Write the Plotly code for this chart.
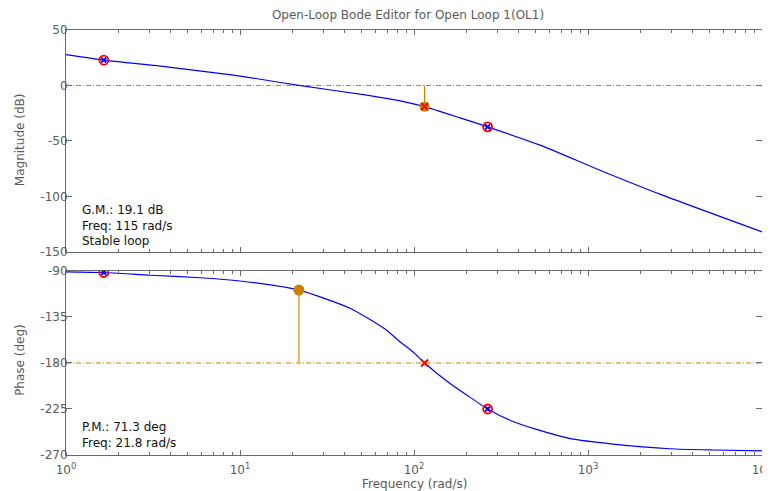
import plotly.graph_objects as go

# ---- data ----
freq_mag = [1, 1.65, 3.79, 9.15, 13.1, 21.8, 53.5, 83, 115, 184, 265, 530, 1172, 2590, 10000]
mag_db = [27.8, 22.8, 16.8, 9.3, 5.6, 0.0, -8.7, -13.9, -19.1, -29.2, -37.3, -53.8, -76.4, -98.0, -132.0]

freq_ph = [1, 1.65, 3.04, 5.88, 10, 21.8, 42.9, 69.3, 83, 98.5, 115, 161, 201, 265, 356, 506,
           792, 1390, 2960, 5290, 10000]
phase_deg = [-90.8, -91.5, -94.2, -96.6, -99.8, -108.7, -126.5, -147.7, -159.2, -169.0, -180.0,
             -200.0, -211.3, -225.0, -236.0, -245.0, -254.0, -259.3, -263.9, -265.1, -265.9]

comp_freq = [1.65, 265]
comp_mag = [22.8, -37.3]
comp_phase = [-91.5, -225.0]

gm_freq = 115
gm_db = 19.1
pm_freq = 21.8
pm_deg = 71.3

x_limits = [1, 10000]
mag_ticks = [-150, -100, -50, 0, 50]
mag_ticktext = ["-150", "-100", "-50", "0", "50"]
phase_ticks = [-270, -225, -180, -135, -90]
phase_ticktext = ["-270", "-225", "-180", "-135", "-90"]
x_ticks = [1, 10, 100, 1000, 10000]
x_ticktext = ["10<sup>0</sup>", "10<sup>1</sup>", "10<sup>2</sup>", "10<sup>3</sup>", "10<sup>4</sup>"]
minor_ticks = [m * d for d in [1, 10, 100, 1000] for m in range(2, 10)]

gm_text = "G.M.: 19.1 dB<br>Freq: 115 rad/s<br>Stable loop"
pm_text = "P.M.: 71.3 deg<br>Freq: 21.8 rad/s"

BLUE = "#0000ff"
RED = "#ff0000"
ORANGE = "#cc7f00"
ORANGE_LIGHT = "#e2a451"
AXC = "#6a6a6a"
TXT = "#5a5a5a"
DASHDOT = "5px,2px,1px,2px"
FONT = "DejaVu Sans, Liberation Sans, Arial, sans-serif"

# the page body has an 8px default margin: figure is sized/positioned to compensate
W, H = 762, 483

fig = go.Figure()


def comp_markers(xs, ys, xa, ya):
    fig.add_trace(go.Scatter(x=xs, y=ys, mode="markers",
                             marker=dict(symbol="circle-open", size=9, color=RED,
                                         line=dict(color=RED, width=1.8)),
                             xaxis=xa, yaxis=ya))
    fig.add_trace(go.Scatter(x=xs, y=ys, mode="markers",
                             marker=dict(symbol="x-thin", size=5, color=BLUE,
                                         line=dict(color=BLUE, width=1.8)),
                             xaxis=xa, yaxis=ya))


# ---------- magnitude (top) ----------
fig.add_trace(go.Scatter(x=x_limits, y=[0, 0], mode="lines",
                         line=dict(color=ORANGE, width=1, dash=DASHDOT), xaxis="x2", yaxis="y2"))
fig.add_trace(go.Scatter(x=[gm_freq, gm_freq], y=[0, -gm_db], mode="lines",
                         line=dict(color=ORANGE, width=1.2), xaxis="x2", yaxis="y2"))
fig.add_trace(go.Scatter(x=freq_mag, y=mag_db, mode="lines",
                         line=dict(color=BLUE, width=1.2, shape="spline", smoothing=0.6),
                         xaxis="x2", yaxis="y2"))
fig.add_trace(go.Scatter(x=[gm_freq], y=[-gm_db], mode="markers",
                         marker=dict(symbol="circle", size=10, color=ORANGE, line=dict(width=0)),
                         xaxis="x2", yaxis="y2"))
fig.add_trace(go.Scatter(x=[gm_freq], y=[-gm_db], mode="markers",
                         marker=dict(symbol="x-thin", size=7, color=RED, line=dict(color=RED, width=2)),
                         xaxis="x2", yaxis="y2"))
comp_markers(comp_freq, comp_mag, "x2", "y2")

# ---------- phase (bottom) ----------
fig.add_trace(go.Scatter(x=x_limits, y=[-180, -180], mode="lines",
                         line=dict(color=ORANGE, width=1, dash=DASHDOT), xaxis="x", yaxis="y"))
fig.add_trace(go.Scatter(x=[pm_freq, pm_freq], y=[-180, -180 + pm_deg], mode="lines",
                         line=dict(color=ORANGE_LIGHT, width=1.6), xaxis="x", yaxis="y"))
fig.add_trace(go.Scatter(x=freq_ph, y=phase_deg, mode="lines",
                         line=dict(color=BLUE, width=1.2, shape="spline", smoothing=0.6),
                         xaxis="x", yaxis="y"))
fig.add_trace(go.Scatter(x=[pm_freq], y=[-180 + pm_deg], mode="markers",
                         marker=dict(symbol="circle", size=11, color=ORANGE, line=dict(width=0)),
                         xaxis="x", yaxis="y"))
fig.add_trace(go.Scatter(x=[gm_freq], y=[-180], mode="markers",
                         marker=dict(symbol="x-thin", size=7, color=RED, line=dict(color=RED, width=2)),
                         xaxis="x", yaxis="y"))
comp_markers(comp_freq, comp_phase, "x", "y")

common_x = dict(type="log", range=[0, 4], showgrid=False, zeroline=False, automargin=False,
                showline=True, linecolor=AXC, linewidth=1, mirror="ticks",
                ticks="inside", ticklen=5, tickcolor=AXC, tickwidth=1,
                tickvals=x_ticks, ticklabeloverflow="allow", ticklabelstandoff=4,
                minor=dict(tickvals=minor_ticks, ticks="inside", ticklen=3, tickcolor=AXC, showgrid=False),
                tickfont=dict(family=FONT, size=12, color=TXT))
common_y = dict(showgrid=False, zeroline=False, showline=True, linecolor=AXC, linewidth=1,
                automargin=False, mirror="ticks", ticks="inside", ticklen=6, tickcolor=AXC, tickwidth=1,
                ticklabelstandoff=-5,
                tickfont=dict(family=FONT, size=12, color=TXT))

title_font = dict(family=FONT, size=12, color=TXT)

fig.update_layout(
    width=W, height=H,
    margin=dict(l=58, r=8, t=22, b=36, autoexpand=False),
    paper_bgcolor="white", plot_bgcolor="white",
    showlegend=False, hovermode=False,
    font=dict(family=FONT, size=12, color=TXT),
    title=dict(text="Open-Loop Bode Editor for Open Loop 1(OL1)", x=400 / W, xanchor="center",
               y=1 - 7 / H, yref="container", yanchor="middle", font=title_font),
    xaxis=dict(common_x, domain=[0, 1], anchor="y", ticktext=x_ticktext),
    xaxis2=dict(common_x, domain=[0, 1], anchor="y2", matches="x", showticklabels=False),
    yaxis=dict(common_y, domain=[0, 0.433], range=[-270, -90], tickvals=phase_ticks,
               ticktext=phase_ticktext),
    yaxis2=dict(common_y, domain=[0.478, 1], range=[-150, 50], tickvals=mag_ticks,
                ticktext=mag_ticktext),
    annotations=[
        dict(text="Frequency (rad/s)", xref="paper", yref="paper", x=0.5, y=-0.068,
             xanchor="center", yanchor="middle", showarrow=False, font=title_font),
        dict(text="Magnitude (dB)", xref="paper", yref="paper", x=-0.066, y=0.741,
             xanchor="center", yanchor="middle", textangle=-90, showarrow=False, font=title_font),
        dict(text="Phase (deg)", xref="paper", yref="paper", x=-0.066, y=0.224,
             xanchor="center", yanchor="middle", textangle=-90, showarrow=False, font=title_font),
        dict(text=gm_text, xref="paper", yref="paper", x=0.02, y=0.541, xanchor="left",
             yanchor="middle", align="left", showarrow=False,
             font=dict(family=FONT, size=12, color="#111111")),
        dict(text=pm_text, xref="paper", yref="paper", x=0.02, y=0.047, xanchor="left",
             yanchor="middle", align="left", showarrow=False,
             font=dict(family=FONT, size=12, color="#111111")),
    ],
)

fig.write_html("out.html")
